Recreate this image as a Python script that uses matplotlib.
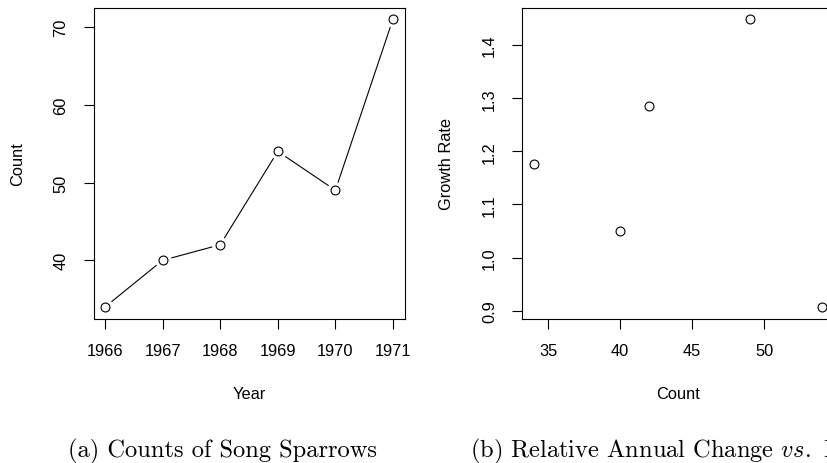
import matplotlib
matplotlib.use("Agg")
import matplotlib.pyplot as plt

# ------------------------------
# Data
# ------------------------------
years = [1966, 1967, 1968, 1969, 1970, 1971]
counts = [34, 40, 42, 54, 49, 71]

# growth rate vs count (count this year, ratio next/this)
gr_count = [34, 40, 42, 54, 49]
gr_rate = [1.176, 1.050, 1.286, 0.907, 1.449]

left_yticks = [40, 50, 60, 70]
right_xticks = [35, 40, 45, 50]
right_yticks = [0.9, 1.0, 1.1, 1.2, 1.3, 1.4]

caption_a = "(a) Counts of Song Sparrows"
caption_b = r"(b) Relative Annual Change $\mathit{vs.}$ Number of Sparrows"

plt.rcParams["font.family"] = ["Liberation Sans", "DejaVu Sans"]
plt.rcParams["mathtext.fontset"] = "cm"

W, H = 827, 464
fig = plt.figure(figsize=(W / 100, H / 100), dpi=100)


def px_axes(x0, x1, top, bottom):
    return fig.add_axes([x0 / W, 1 - bottom / H, (x1 - x0) / W, (bottom - top) / H])


def style_axes(ax):
    for sp in ax.spines.values():
        sp.set_linewidth(0.8)
        sp.set_color("black")
    ax.tick_params(direction="out", length=7.5, width=0.8, pad=10.5,
                   labelsize=11.8, colors="black")
    for lab in ax.get_yticklabels():
        lab.set_rotation(90)
        lab.set_va("center")


# ------------------------------
# (a) counts per year
# ------------------------------
ax1 = px_axes(93.5, 404.5, 8.6, 319.5)
ax1.plot(years, counts, color="black", lw=0.8, zorder=1)
ax1.plot(years, counts, "o", ms=11, mfc="white", mec="white", zorder=2)
ax1.plot(years, counts, "o", ms=6.4, mfc="white", mec="black", mew=0.8, zorder=3)
ax1.set_xlim(1965.8, 1971.2)
ax1.set_ylim(32.52, 72.48)
ax1.set_xticks(years)
ax1.set_xticklabels([str(y) for y in years])
ax1.set_yticks(left_yticks)
ax1.set_yticklabels([str(v) for v in left_yticks])
style_axes(ax1)
ax1.text(0.5, -0.242, "Year", transform=ax1.transAxes, ha="center", va="center", fontsize=11.8)
ax1.text(-0.243, 0.5, "Count", transform=ax1.transAxes, ha="center", va="center",
         rotation=90, fontsize=11.8)

# ------------------------------
# (b) growth rate vs count (cut off at the right)
# ------------------------------
ax2 = px_axes(522, 833.5, 8.6, 319.5)
ax2.plot(gr_count, gr_rate, "o", ms=6.4, mfc="white", mec="black", mew=0.8, clip_on=False)
ax2.set_xlim(33.2, 54.8)
ax2.set_ylim(0.8853, 1.4707)
ax2.set_xticks(right_xticks)
ax2.set_xticklabels([str(v) for v in right_xticks])
ax2.set_yticks(right_yticks)
ax2.set_yticklabels([f"{v:.1f}" for v in right_yticks])
style_axes(ax2)
ax2.text(0.5, -0.242, "Count", transform=ax2.transAxes, ha="center", va="center", fontsize=11.8)
ax2.text(-0.241, 0.5, "Growth Rate", transform=ax2.transAxes, ha="center", va="center",
         rotation=90, fontsize=11.8)

# ------------------------------
# captions (the second one runs off the right edge, as in the source)
# ------------------------------
fig.text(68 / W, 1 - 457 / H, caption_a, family="cmr10", fontsize=17.6, ha="left", va="baseline")
fig.text(470 / W, 1 - 457 / H, caption_b, family="cmr10", fontsize=17.6, ha="left", va="baseline")

fig.savefig("out.png", dpi=100)
